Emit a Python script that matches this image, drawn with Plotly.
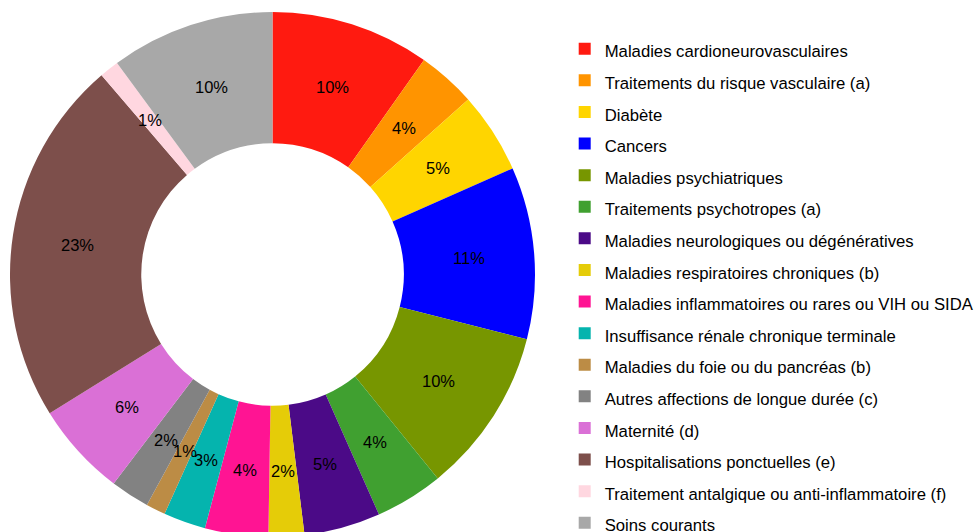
"""Donut chart of health expenditure shares by category."""

import numpy as np
import plotly.graph_objects as go

categories = [
    "Maladies cardioneurovasculaires",
    "Traitements du risque vasculaire (a)",
    "Diabète",
    "Cancers",
    "Maladies psychiatriques",
    "Traitements psychotropes (a)",
    "Maladies neurologiques ou dégénératives",
    "Maladies respiratoires chroniques (b)",
    "Maladies inflammatoires ou rares ou VIH ou SIDA",
    "Insuffisance rénale chronique terminale",
    "Maladies du foie ou du pancréas (b)",
    "Autres affections de longue durée (c)",
    "Maternité (d)",
    "Hospitalisations ponctuelles (e)",
    "Traitement antalgique ou anti-inflammatoire (f)",
    "Soins courants",
]
shares = [9.8, 3.6, 5.0, 10.6, 10.2, 4.2, 4.7, 2.2, 3.9, 2.6, 1.2, 2.4, 5.8, 22.6, 1.2, 10.1]
colors = [
    "#FF1A10", "#FF9400", "#FFD500", "#0000FF", "#779600", "#40A030",
    "#4B0A87", "#E5CC08", "#FF1493", "#05B4AE", "#BC8C45", "#828282",
    "#DA70D6", "#7D4F4B", "#FFD7E0", "#A8A8A8",
]

HOLE = 0.5
W, H = 977, 549
TOP, BOTTOM = 12, 12
radius_px = (H - TOP - BOTTOM) / 2
cx_px = 272.5

# legend font drives row spacing; the span keeps the visible text smaller
legend_labels = [f'<span style="font-size:16.7px">{c}</span>' for c in categories]

# percentage labels sit at mid-ring, like the spreadsheet original
frac = np.array(shares) / sum(shares)
mid = (np.cumsum(frac) - frac / 2) * 2 * np.pi
r_mid = (1 + HOLE) / 2
label_x = r_mid * np.sin(mid)
label_y = r_mid * np.cos(mid)
label_text = [f"{round(f * 100):.0f}%" for f in frac]

fig = go.Figure(
    go.Pie(
        labels=legend_labels,
        values=shares,
        sort=False,
        direction="clockwise",
        rotation=0,
        hole=HOLE,
        marker=dict(colors=colors, line=dict(width=0)),
        textinfo="none",
        domain=dict(x=[0, 2 * cx_px / W], y=[0, 1]),
        hoverinfo="label+percent",
    )
)

# pie text would be squeezed to the rim on thin slices, so the labels go in
# as annotations on a hidden square axis laid over the donut
for x, y, t in zip(label_x, label_y, label_text):
    fig.add_annotation(
        x=x, y=y, xref="x", yref="y", text=t, showarrow=False,
        font=dict(family="Arial", size=16.5, color="black"),
    )

hidden = dict(visible=False, range=[-1, 1], fixedrange=True, showgrid=False, zeroline=False)
fig.update_layout(
    width=W,
    height=H,
    margin=dict(l=0, r=0, t=TOP, b=BOTTOM, autoexpand=False),
    paper_bgcolor="white",
    plot_bgcolor="rgba(0,0,0,0)",
    font=dict(family="Arial", color="black"),
    xaxis=dict(hidden, domain=[(cx_px - radius_px) / W, (cx_px + radius_px) / W]),
    yaxis=dict(hidden, domain=[0, 1]),
    legend=dict(
        x=0.578,
        xanchor="left",
        y=0.9696,
        yanchor="top",
        maxheight=600,
        font=dict(family="Arial", size=22, color="black"),
        bgcolor="rgba(0,0,0,0)",
    ),
)

fig.write_html(
    "out.html",
    config={"displayModeBar": False},
    post_script="document.body.style.margin='0';document.body.style.overflow='hidden';",
)
